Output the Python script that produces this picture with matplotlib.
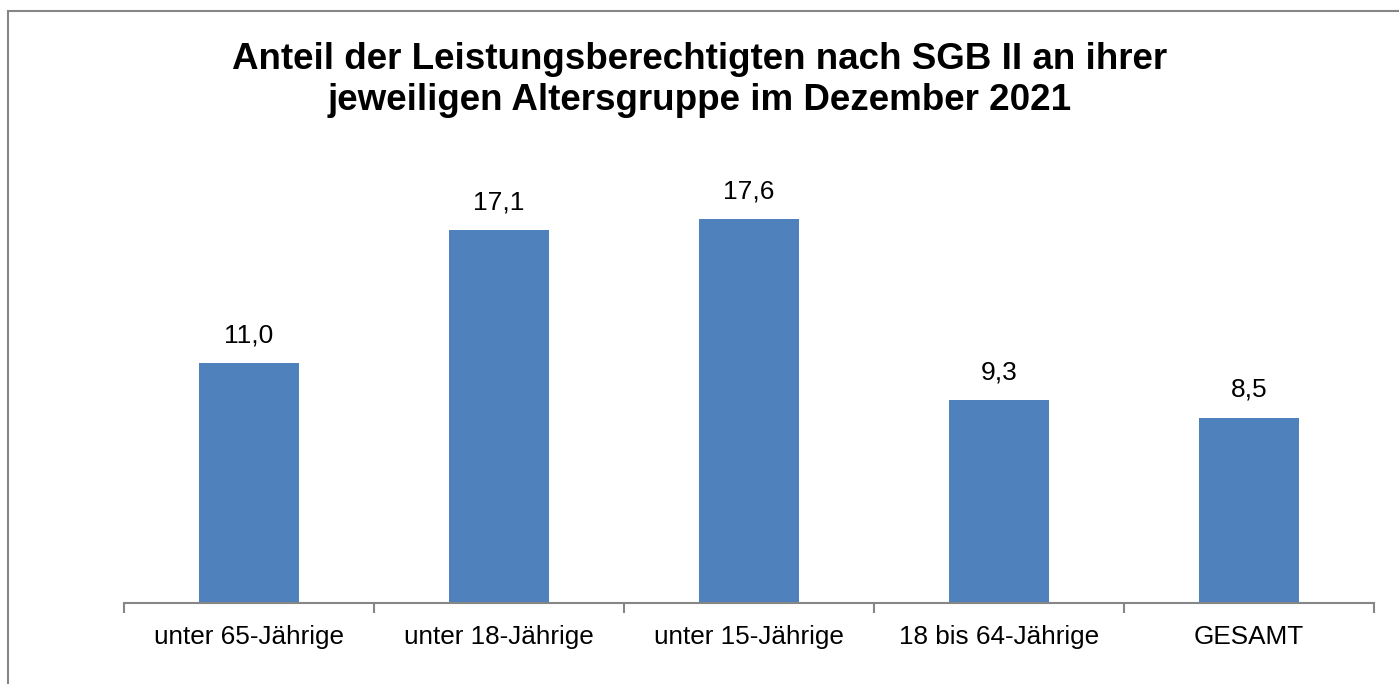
import matplotlib
matplotlib.use("Agg")
import matplotlib.pyplot as plt
from matplotlib.patches import Rectangle

# === DATA ===
kategorien = ["unter 65-Jährige", "unter 18-Jährige", "unter 15-Jährige",
              "18 bis 64-Jährige", "GESAMT"]
anteil = [11.0, 17.1, 17.6, 9.3, 8.5]
titel = ("Anteil der Leistungsberechtigten nach SGB II an ihrer\n"
         "jeweiligen Altersgruppe im Dezember 2021")

plt.rcParams["font.family"] = ["Liberation Sans", "DejaVu Sans"]

W, H = 1399, 684
fig = plt.figure(figsize=(W / 100, H / 100), dpi=100)

# Rahmen (rechts und unten abgeschnitten)
fig.patches.append(Rectangle((8 / W, -0.1), 1.2, 1 - 11 / H + 0.1,
                             transform=fig.transFigure, fill=False,
                             edgecolor="#868686", linewidth=1.5))

ax = fig.add_axes([124 / W, 81 / H, 1250 / W, 436 / H])
x = range(len(kategorien))
ax.bar(x, anteil, width=0.4, color="#4F81BD")
ax.set_xlim(-0.5, len(kategorien) - 0.5)
ax.set_ylim(0, 20)

for xi, v in zip(x, anteil):
    ax.text(xi, v + 1.28, f"{v:.1f}".replace(".", ","), ha="center",
            va="center", fontsize=19)

ax.set_xticks([i + 0.5 for i in range(-1, len(kategorien))], minor=False)
ax.set_xticklabels([])
ax.tick_params(axis="x", length=7, color="#868686", width=1.5)
ax.set_xticks(list(x), minor=True)
ax.set_xticklabels(kategorien, minor=True, fontsize=18.8)
ax.tick_params(axis="x", which="minor", length=0, pad=16)

ax.set_yticks([])
for s in ["top", "right", "left"]:
    ax.spines[s].set_visible(False)
ax.spines["bottom"].set_color("#868686")
ax.spines["bottom"].set_linewidth(1.5)

fig.text(0.5, 1 - 80 / H, titel, ha="center", va="center",
         fontsize=26.5, fontweight="bold", linespacing=1.22)

fig.savefig("out.png", dpi=100)
